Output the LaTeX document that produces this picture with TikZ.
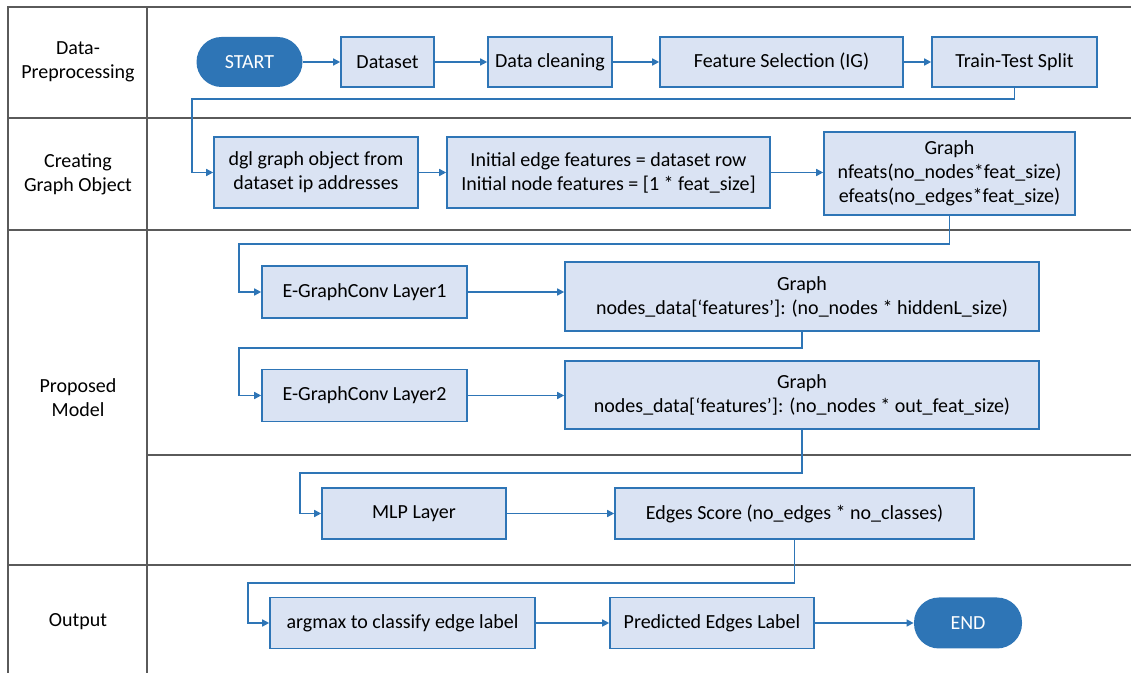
\documentclass[tikz,border=0pt]{standalone}
\usepackage{fontspec}
\setmainfont{Carlito}
\usetikzlibrary{arrows.meta}
\definecolor{boxfill}{HTML}{DAE3F3}
\definecolor{boxline}{HTML}{2E75B6}
\definecolor{termfill}{HTML}{2E75B6}
\definecolor{lanegray}{HTML}{5A5A5A}

\begin{document}
\begin{tikzpicture}[x=0.5pt,y=-0.5pt,
	font=\fontsize{10}{12}\selectfont,
	box/.style={draw=boxline,fill=boxfill,line width=0.8pt,align=center,inner sep=2pt},
	term/.style={fill=termfill,text=white,rounded corners=12.5pt,align=center},
	flow/.style={draw=boxline,line width=0.75pt,-{Triangle[length=3.5pt,width=3.5pt]}},
	lane/.style={draw=lanegray,line width=0.9pt}]
	
	\useasboundingbox (0,0) rectangle (1131,673);
	
	% Draw lanes
	\draw[lane] (1131,7) -- (8,7) -- (8,673);
	\draw[lane] (147,7) -- (147,673);
	\foreach \y in {118,230,565}
		\draw[lane] (8,\y) -- (1131,\y);
	\draw[lane] (147,455) -- (1131,455);
	
	% Lane titles
	\node[align=center] (prep) at (78,62) {Data-\\Preprocessing};
	\node[align=center] (create) at (78,174) {Creating\\Graph Object};
	\node[align=center] (model) at (78,398) {Proposed\\Model};
	\node (output) at (78,622) {Output};
	
	% Draw nodes
	\node[term,minimum width=53pt,minimum height=25pt] (start) at (249.5,62) {START};
	\node[box,minimum width=46.5pt,minimum height=25pt] (dataset) at (387.5,62) {Dataset};
	\node[box,minimum width=62pt,minimum height=25pt] (clean) at (550,62) {Data cleaning};
	\node[box,minimum width=121.5pt,minimum height=25pt] (featsel) at (781.5,62) {Feature Selection (IG)};
	\node[box,minimum width=82.5pt,minimum height=25pt] (split) at (1014.5,62) {Train-Test Split};
	
	\node[box,minimum width=102pt,minimum height=35.5pt] (dgl) at (316,172.5) {dgl graph object from\\dataset ip addresses};
	\node[box,minimum width=161.5pt,minimum height=35.5pt] (initfeat) at (608.5,172.5) {Initial edge features = dataset row\\Initial node features = [1 * feat\_size]};
	\node[box,minimum width=125.5pt,minimum height=41.5pt] (graph0) at (949.5,173.5) {Graph\\nfeats(no\_nodes*feat\_size)\\efeats(no\_edges*feat\_size)};
	
	\node[box,minimum width=102.5pt,minimum height=26pt] (layer1) at (364.5,292) {E-GraphConv Layer1};
	\node[box,minimum width=237pt,minimum height=34.5pt] (graph1) at (802,296.5) {Graph\\nodes\_data[‘features’]: (no\_nodes * hiddenL\_size)};
	\node[box,minimum width=102.5pt,minimum height=26pt] (layer2) at (364.5,395.5) {E-GraphConv Layer2};
	\node[box,minimum width=237pt,minimum height=34pt] (graph2) at (802,395) {Graph\\nodes\_data[‘features’]: (no\_nodes * out\_feat\_size)};
	
	\node[box,minimum width=92pt,minimum height=25.5pt] (mlp) at (414,513.5) {MLP Layer};
	\node[box,minimum width=179.5pt,minimum height=25.5pt] (score) at (794.5,513.5) {Edges Score (no\_edges * no\_classes)};
	
	\node[box,minimum width=132.5pt,minimum height=25.5pt] (argmax) at (402.5,623) {argmax to classify edge label};
	\node[box,minimum width=102pt,minimum height=25.5pt] (pred) at (712,623) {Predicted Edges Label};
	\node[term,minimum width=54pt,minimum height=25.5pt] (finish) at (968,623) {END};
	
	% Draw arcs, row by row
	\draw[flow] (start) -- (dataset);
	\draw[flow] (dataset) -- (clean);
	\draw[flow] (clean) -- (featsel);
	\draw[flow] (featsel) -- (split);
	\draw[flow] (dgl) -- (initfeat);
	\draw[flow] (initfeat) -- (initfeat -| graph0.west);
	\draw[flow] (layer1) -- (layer1 -| graph1.west);
	\draw[flow] (layer2) -- (layer2 -| graph2.west);
	\draw[flow] (mlp) -- (score);
	\draw[flow] (argmax) -- (pred);
	\draw[flow] (pred) -- (finish);
	
	% Draw arcs, from one row to the next
	\draw[flow] (split.south) -- ++(0,11) -| ([xshift=-10.5pt]dgl.west) -- (dgl.west);
	\draw[flow] (graph0.south) -- ++(0,28) -| ([xshift=-11pt]layer1.west) -- (layer1.west);
	\draw[flow] (graph1.south) -- ++(0,16) -| ([xshift=-11pt]layer2.west) -- (layer2.west);
	\draw[flow] (graph2.south) -- ++(0,43) -| ([xshift=-10.5pt]mlp.west) -- (mlp.west);
	\draw[flow] (score.south) -- ++(0,43) -| ([xshift=-10.5pt]argmax.west) -- (argmax.west);
	
\end{tikzpicture}
\end{document}
